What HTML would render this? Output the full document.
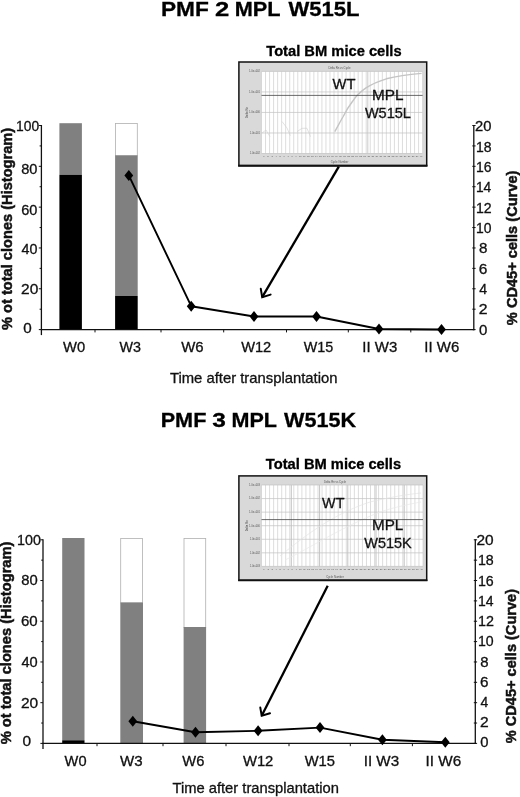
<!DOCTYPE html>
<html lang="en"><head><meta charset="utf-8"><title>PMF MPL W515 transplantation figure</title>
<style>html,body{margin:0;padding:0;background:#fff}body{width:520px;height:797px;overflow:hidden}svg{display:block}text{font-family:"Liberation Sans",Arial,Helvetica,sans-serif}</style>
</head><body>
<svg width="520" height="797" viewBox="0 0 520 797">
<rect width="520" height="797" fill="#fff"/>
<text x="160.93" y="16.4" font-size="21.1" textLength="47.89" lengthAdjust="spacingAndGlyphs" font-weight="bold" fill="#000" stroke="#000" stroke-width="0.3">PMF</text>
<text x="214.9" y="16.4" font-size="21.1" textLength="14.25" lengthAdjust="spacingAndGlyphs" font-weight="bold" fill="#000" stroke="#000" stroke-width="0.3">2</text>
<text x="234.69" y="16.4" font-size="21.1" textLength="45.89" lengthAdjust="spacingAndGlyphs" font-weight="bold" fill="#000" stroke="#000" stroke-width="0.3">MPL</text>
<text x="288.4" y="16.4" font-size="21.1" textLength="71.13" lengthAdjust="spacingAndGlyphs" font-weight="bold" fill="#000" stroke="#000" stroke-width="0.3">W515L</text>
<text x="160.69" y="427.2" font-size="21.1" textLength="45.68" lengthAdjust="spacingAndGlyphs" font-weight="bold" fill="#000" stroke="#000" stroke-width="0.3">PMF</text>
<text x="212.19" y="427.2" font-size="21.1" textLength="13.6" lengthAdjust="spacingAndGlyphs" font-weight="bold" fill="#000" stroke="#000" stroke-width="0.3">3</text>
<text x="231.5" y="427.2" font-size="21.1" textLength="45.47" lengthAdjust="spacingAndGlyphs" font-weight="bold" fill="#000" stroke="#000" stroke-width="0.3">MPL</text>
<text x="284.1" y="427.2" font-size="21.1" textLength="72.01" lengthAdjust="spacingAndGlyphs" font-weight="bold" fill="#000" stroke="#000" stroke-width="0.3">W515K</text>
<rect x="59.4" y="123.2" width="22.5" height="51.6" fill="#808080"/>
<rect x="59.4" y="174.8" width="22.5" height="154.2" fill="#000"/>
<rect x="115.5" y="123.4" width="21.8" height="32.4" fill="#fff" stroke="#b0b0b0" stroke-width="0.8"/>
<rect x="115.1" y="155.4" width="22.6" height="140.6" fill="#808080"/>
<rect x="115.1" y="296" width="22.6" height="33" fill="#000"/>
<g stroke="#111" stroke-width="1.3" fill="none">
<path d="M41.4 125V335.1"/>
<path d="M40.8 329.6H474.4"/>
<path d="M473.8 125V330.2"/>
</g>
<g stroke="#111" stroke-width="1" fill="none">
<path d="M38.8 125.5H41.4M39.6 145.91H41.4M38.8 166.32H41.4M39.6 186.73H41.4M38.8 207.14H41.4M39.6 227.55H41.4M38.8 247.96H41.4M39.6 268.37H41.4M38.8 288.78H41.4M39.6 309.19H41.4M38.8 329.6H41.4M472.3 125.5H475.6M472.3 145.91H475.6M472.3 166.32H475.6M472.3 186.73H475.6M472.3 207.14H475.6M472.3 227.55H475.6M472.3 247.96H475.6M472.3 268.37H475.6M472.3 288.78H475.6M472.3 309.19H475.6M472.3 329.6H475.6M95 329.6V332.4M161 329.6V332.4M223.7 329.6V332.4M286.5 329.6V332.4M348.3 329.6V332.4M410.8 329.6V332.4"/>
</g>
<text x="16.06" y="131.3" font-size="14.2" textLength="23.07" lengthAdjust="spacingAndGlyphs" fill="#111" stroke="#111" stroke-width="0.3">100</text>
<text x="21.22" y="174.1" font-size="14.2" textLength="16.23" lengthAdjust="spacingAndGlyphs" fill="#111" stroke="#111" stroke-width="0.3">80</text>
<text x="21.27" y="214.8" font-size="14.2" textLength="16.17" lengthAdjust="spacingAndGlyphs" fill="#111" stroke="#111" stroke-width="0.3">60</text>
<text x="21.51" y="253.9" font-size="14.2" textLength="15.92" lengthAdjust="spacingAndGlyphs" fill="#111" stroke="#111" stroke-width="0.3">40</text>
<text x="21.12" y="293.6" font-size="14.2" textLength="17.25" lengthAdjust="spacingAndGlyphs" fill="#111" stroke="#111" stroke-width="0.3">20</text>
<text x="23.29" y="333.2" font-size="14.2" textLength="8.46" lengthAdjust="spacingAndGlyphs" fill="#111" stroke="#111" stroke-width="0.3">0</text>
<text x="475.06" y="131.3" font-size="14.2" textLength="16.39" lengthAdjust="spacingAndGlyphs" fill="#111" stroke="#111" stroke-width="0.3">20</text>
<text x="475.95" y="151.62" font-size="14.2" textLength="15.54" lengthAdjust="spacingAndGlyphs" fill="#111" stroke="#111" stroke-width="0.3">18</text>
<text x="475.95" y="171.94" font-size="14.2" textLength="15.54" lengthAdjust="spacingAndGlyphs" fill="#111" stroke="#111" stroke-width="0.3">16</text>
<text x="475.97" y="192.26" font-size="14.2" textLength="15.31" lengthAdjust="spacingAndGlyphs" fill="#111" stroke="#111" stroke-width="0.3">14</text>
<text x="475.94" y="212.58" font-size="14.2" textLength="15.7" lengthAdjust="spacingAndGlyphs" fill="#111" stroke="#111" stroke-width="0.3">12</text>
<text x="475.96" y="232.9" font-size="14.2" textLength="15.46" lengthAdjust="spacingAndGlyphs" fill="#111" stroke="#111" stroke-width="0.3">10</text>
<text x="478.99" y="253.22" font-size="14.2" textLength="8.43" lengthAdjust="spacingAndGlyphs" fill="#111" stroke="#111" stroke-width="0.3">8</text>
<text x="478.83" y="273.54" font-size="14.2" textLength="8.61" lengthAdjust="spacingAndGlyphs" fill="#111" stroke="#111" stroke-width="0.3">6</text>
<text x="479.32" y="293.86" font-size="14.2" textLength="7.85" lengthAdjust="spacingAndGlyphs" fill="#111" stroke="#111" stroke-width="0.3">4</text>
<text x="478.81" y="314.18" font-size="14.2" textLength="8.8" lengthAdjust="spacingAndGlyphs" fill="#111" stroke="#111" stroke-width="0.3">2</text>
<text x="479" y="334.5" font-size="14.2" textLength="8.34" lengthAdjust="spacingAndGlyphs" fill="#111" stroke="#111" stroke-width="0.3">0</text>
<text x="63.03" y="352.4" font-size="14.2" textLength="22.09" lengthAdjust="spacingAndGlyphs" fill="#111" stroke="#111" stroke-width="0.3">W0</text>
<text x="119.53" y="352.4" font-size="14.2" textLength="21.44" lengthAdjust="spacingAndGlyphs" fill="#111" stroke="#111" stroke-width="0.3">W3</text>
<text x="181.18" y="352.4" font-size="14.2" textLength="22.42" lengthAdjust="spacingAndGlyphs" fill="#111" stroke="#111" stroke-width="0.3">W6</text>
<text x="241.18" y="352.4" font-size="14.2" textLength="30.07" lengthAdjust="spacingAndGlyphs" fill="#111" stroke="#111" stroke-width="0.3">W12</text>
<text x="303.73" y="352.4" font-size="14.2" textLength="29.46" lengthAdjust="spacingAndGlyphs" fill="#111" stroke="#111" stroke-width="0.3">W15</text>
<text x="362.35" y="352.4" font-size="14.2" textLength="34.9" lengthAdjust="spacingAndGlyphs" fill="#111" stroke="#111" stroke-width="0.3">II W3</text>
<text x="424.35" y="352.4" font-size="14.2" textLength="34.9" lengthAdjust="spacingAndGlyphs" fill="#111" stroke="#111" stroke-width="0.3">II W6</text>
<text x="169.9" y="383.3" font-size="14.2" textLength="167.59" lengthAdjust="spacingAndGlyphs" fill="#111" stroke="#111" stroke-width="0.3">Time after transplantation</text>
<text x="0" y="0" font-size="15.4" textLength="202.19" lengthAdjust="spacingAndGlyphs" font-weight="bold" fill="#111" stroke="#111" stroke-width="0.5" transform="translate(11.6 329.97) rotate(-90)">% ot total clones (Histogram)</text>
<text x="0" y="0" font-size="15.4" textLength="154.57" lengthAdjust="spacingAndGlyphs" font-weight="bold" fill="#111" stroke="#111" stroke-width="0.5" transform="translate(516.5 325.16) rotate(-90)">% CD45+ cells (Curve)</text>
<path d="M128.8 175.4L191.2 306.2L254 316.5L316.5 316.5L379 329L441.5 329.5" stroke="#000" stroke-width="1.9" fill="none" stroke-linejoin="round"/>
<path d="M124.4 175.4L128.8 169.9L133.2 175.4L128.8 180.9Z" fill="#000"/>
<path d="M186.8 306.2L191.2 300.7L195.6 306.2L191.2 311.7Z" fill="#000"/>
<path d="M249.6 316.5L254 311L258.4 316.5L254 322Z" fill="#000"/>
<path d="M312.1 316.5L316.5 311L320.9 316.5L316.5 322Z" fill="#000"/>
<path d="M374.6 329L379 323.5L383.4 329L379 334.5Z" fill="#000"/>
<path d="M437.1 329.5L441.5 324L445.9 329.5L441.5 335Z" fill="#000"/>
<rect x="238.9" y="62" width="187.8" height="103.6" fill="#d9d9d9"/>
<rect x="261.5" y="71.4" width="161.1" height="82.1" fill="#fff"/>
<path d="M261.5 71.4V153.5M265.53 71.4V153.5M269.56 71.4V153.5M273.58 71.4V153.5M277.61 71.4V153.5M281.64 71.4V153.5M285.67 71.4V153.5M289.69 71.4V153.5M293.72 71.4V153.5M297.75 71.4V153.5M301.77 71.4V153.5M305.8 71.4V153.5M309.83 71.4V153.5M313.86 71.4V153.5M317.88 71.4V153.5M321.91 71.4V153.5M325.94 71.4V153.5M329.97 71.4V153.5M334 71.4V153.5M338.02 71.4V153.5M342.05 71.4V153.5M346.08 71.4V153.5M350.11 71.4V153.5M354.13 71.4V153.5M358.16 71.4V153.5M362.19 71.4V153.5M366.22 71.4V153.5M370.24 71.4V153.5M374.27 71.4V153.5M378.3 71.4V153.5M382.33 71.4V153.5M386.35 71.4V153.5M390.38 71.4V153.5M394.41 71.4V153.5M398.44 71.4V153.5M402.46 71.4V153.5M406.49 71.4V153.5M410.52 71.4V153.5M414.55 71.4V153.5M418.57 71.4V153.5M422.6 71.4V153.5" stroke="#cfcfcf" stroke-width="0.7" fill="none"/>
<path d="M367.8 71.4V153.5" stroke="#bebebe" stroke-width="0.8" fill="none"/>
<path d="M261.5 71.4H422.6M261.5 91.93H422.6M261.5 112.45H422.6M261.5 132.97H422.6M261.5 153.5H422.6" stroke="#c2c2c2" stroke-width="0.7" fill="none"/>
<text x="260" y="72.3" font-size="2.6" text-anchor="end" fill="#555">1.0e+002</text>
<text x="260" y="92.83" font-size="2.6" text-anchor="end" fill="#555">1.0e+001</text>
<text x="260" y="113.35" font-size="2.6" text-anchor="end" fill="#555">1.0e+000</text>
<text x="260" y="133.88" font-size="2.6" text-anchor="end" fill="#555">1.0e-001</text>
<text x="260" y="154.4" font-size="2.6" text-anchor="end" fill="#555">1.0e-002</text>
<text x="264.01" y="157.1" font-size="2.4" text-anchor="middle" fill="#555">1</text>
<text x="268.04" y="157.1" font-size="2.4" text-anchor="middle" fill="#555">2</text>
<text x="272.07" y="157.1" font-size="2.4" text-anchor="middle" fill="#555">3</text>
<text x="276.1" y="157.1" font-size="2.4" text-anchor="middle" fill="#555">4</text>
<text x="280.12" y="157.1" font-size="2.4" text-anchor="middle" fill="#555">5</text>
<text x="284.15" y="157.1" font-size="2.4" text-anchor="middle" fill="#555">6</text>
<text x="288.18" y="157.1" font-size="2.4" text-anchor="middle" fill="#555">7</text>
<text x="292.21" y="157.1" font-size="2.4" text-anchor="middle" fill="#555">8</text>
<text x="296.23" y="157.1" font-size="2.4" text-anchor="middle" fill="#555">9</text>
<text x="300.26" y="157.1" font-size="2.4" text-anchor="middle" fill="#555">10</text>
<text x="304.29" y="157.1" font-size="2.4" text-anchor="middle" fill="#555">11</text>
<text x="308.32" y="157.1" font-size="2.4" text-anchor="middle" fill="#555">12</text>
<text x="312.34" y="157.1" font-size="2.4" text-anchor="middle" fill="#555">13</text>
<text x="316.37" y="157.1" font-size="2.4" text-anchor="middle" fill="#555">14</text>
<text x="320.4" y="157.1" font-size="2.4" text-anchor="middle" fill="#555">15</text>
<text x="324.43" y="157.1" font-size="2.4" text-anchor="middle" fill="#555">16</text>
<text x="328.45" y="157.1" font-size="2.4" text-anchor="middle" fill="#555">17</text>
<text x="332.48" y="157.1" font-size="2.4" text-anchor="middle" fill="#555">18</text>
<text x="336.51" y="157.1" font-size="2.4" text-anchor="middle" fill="#555">19</text>
<text x="340.54" y="157.1" font-size="2.4" text-anchor="middle" fill="#555">20</text>
<text x="344.56" y="157.1" font-size="2.4" text-anchor="middle" fill="#555">21</text>
<text x="348.59" y="157.1" font-size="2.4" text-anchor="middle" fill="#555">22</text>
<text x="352.62" y="157.1" font-size="2.4" text-anchor="middle" fill="#555">23</text>
<text x="356.65" y="157.1" font-size="2.4" text-anchor="middle" fill="#555">24</text>
<text x="360.67" y="157.1" font-size="2.4" text-anchor="middle" fill="#555">25</text>
<text x="364.7" y="157.1" font-size="2.4" text-anchor="middle" fill="#555">26</text>
<text x="368.73" y="157.1" font-size="2.4" text-anchor="middle" fill="#555">27</text>
<text x="372.76" y="157.1" font-size="2.4" text-anchor="middle" fill="#555">28</text>
<text x="376.78" y="157.1" font-size="2.4" text-anchor="middle" fill="#555">29</text>
<text x="380.81" y="157.1" font-size="2.4" text-anchor="middle" fill="#555">30</text>
<text x="384.84" y="157.1" font-size="2.4" text-anchor="middle" fill="#555">31</text>
<text x="388.87" y="157.1" font-size="2.4" text-anchor="middle" fill="#555">32</text>
<text x="392.89" y="157.1" font-size="2.4" text-anchor="middle" fill="#555">33</text>
<text x="396.92" y="157.1" font-size="2.4" text-anchor="middle" fill="#555">34</text>
<text x="400.95" y="157.1" font-size="2.4" text-anchor="middle" fill="#555">35</text>
<text x="404.98" y="157.1" font-size="2.4" text-anchor="middle" fill="#555">36</text>
<text x="409" y="157.1" font-size="2.4" text-anchor="middle" fill="#555">37</text>
<text x="413.03" y="157.1" font-size="2.4" text-anchor="middle" fill="#555">38</text>
<text x="417.06" y="157.1" font-size="2.4" text-anchor="middle" fill="#555">39</text>
<text x="421.09" y="157.1" font-size="2.4" text-anchor="middle" fill="#555">40</text>
<text x="339.5" y="68.6" font-size="2.8" text-anchor="middle" fill="#555">Delta Rn vs Cycle</text>
<text x="339.5" y="163.4" font-size="2.8" text-anchor="middle" fill="#555">Cycle Number</text>
<text x="247.9" y="112.45" font-size="2.8" text-anchor="middle" transform="rotate(-90 247.9 112.45)" fill="#444">Delta Rn</text>
<path d="M334.8 131.6C338 126 341 120 343.2 116.5C346 111 349 106 352.6 101.3C356 96 360 92 366 87.9C372 84 379 81 386.3 78.8C398 76 410 74.5 421.6 73.4" stroke="#c4c4c4" stroke-width="1.4" fill="none"/>
<path d="M261.7 133.3L266 130L270 136.7M282 121.5L287 128L290.3 135.7M297 131.6L302 128.3L307 128.3L310.5 136.7" stroke="#cfcfcf" stroke-width="0.6" fill="none"/>
<path d="M261.5 95.4H422.6" stroke="#444" stroke-width="0.8" fill="none"/>
<rect x="238.9" y="62" width="187.8" height="103.6" fill="none" stroke="#111" stroke-width="1.5"/>
<path d="M238.15 165.8H427.45" stroke="#111" stroke-width="1.9" fill="none"/>
<text x="332.53" y="88.8" font-size="14.3" textLength="22.96" lengthAdjust="spacingAndGlyphs" fill="#111" stroke="#111" stroke-width="0.3">WT</text>
<text x="371.97" y="100.1" font-size="14.3" textLength="31.5" lengthAdjust="spacingAndGlyphs" fill="#111" stroke="#111" stroke-width="0.3">MPL</text>
<text x="364.93" y="117.7" font-size="14.3" textLength="45.96" lengthAdjust="spacingAndGlyphs" fill="#111" stroke="#111" stroke-width="0.3">W515L</text>
<text x="266.25" y="55.9" font-size="14.4" textLength="135.36" lengthAdjust="spacingAndGlyphs" font-weight="bold" fill="#000" stroke="#000" stroke-width="0.3">Total BM mice cells</text>
<path d="M338.8 166.6L262.2 297.2" stroke="#000" stroke-width="2.3" fill="none"/>
<path d="M260.8 288.8L262.2 297.2L270.6 294.6" stroke="#000" stroke-width="2" fill="none" stroke-linejoin="miter" stroke-linecap="round"/>
<rect x="62.2" y="538" width="22.3" height="202.3" fill="#808080"/>
<rect x="62.2" y="740.3" width="22.3" height="2.7" fill="#000"/>
<rect x="120.7" y="538.4" width="21.9" height="64.5" fill="#fff" stroke="#b0b0b0" stroke-width="0.8"/>
<rect x="120.3" y="602.5" width="22.7" height="140.5" fill="#808080"/>
<rect x="184" y="538.4" width="21.7" height="89" fill="#fff" stroke="#b0b0b0" stroke-width="0.8"/>
<rect x="183.6" y="627" width="22.5" height="116" fill="#808080"/>
<g stroke="#111" stroke-width="1.3" fill="none">
<path d="M43 539.3V748.9"/>
<path d="M42.4 743.4H475.9"/>
<path d="M475.3 539.3V744"/>
</g>
<g stroke="#111" stroke-width="1" fill="none">
<path d="M40.4 539.8H43M41.2 560.16H43M40.4 580.52H43M41.2 600.88H43M40.4 621.24H43M41.2 641.6H43M40.4 661.96H43M41.2 682.32H43M40.4 702.68H43M41.2 723.04H43M40.4 743.4H43M473.8 539.8H477.1M473.8 560.16H477.1M473.8 580.52H477.1M473.8 600.88H477.1M473.8 621.24H477.1M473.8 641.6H477.1M473.8 661.96H477.1M473.8 682.32H477.1M473.8 702.68H477.1M473.8 723.04H477.1M473.8 743.4H477.1M97 743.4V746.2M163 743.4V746.2M226 743.4V746.2M289 743.4V746.2M350.3 743.4V746.2M412.4 743.4V746.2"/>
</g>
<text x="17.13" y="545" font-size="14.2" textLength="23.82" lengthAdjust="spacingAndGlyphs" fill="#111" stroke="#111" stroke-width="0.3">100</text>
<text x="21.31" y="584.8" font-size="14.2" textLength="16.44" lengthAdjust="spacingAndGlyphs" fill="#111" stroke="#111" stroke-width="0.3">80</text>
<text x="20.95" y="626.1" font-size="14.2" textLength="16.71" lengthAdjust="spacingAndGlyphs" fill="#111" stroke="#111" stroke-width="0.3">60</text>
<text x="21.41" y="667.2" font-size="14.2" textLength="16.24" lengthAdjust="spacingAndGlyphs" fill="#111" stroke="#111" stroke-width="0.3">40</text>
<text x="20.92" y="707.8" font-size="14.2" textLength="17.25" lengthAdjust="spacingAndGlyphs" fill="#111" stroke="#111" stroke-width="0.3">20</text>
<text x="22.48" y="746.1" font-size="14.2" textLength="8.57" lengthAdjust="spacingAndGlyphs" fill="#111" stroke="#111" stroke-width="0.3">0</text>
<text x="476.53" y="545.2" font-size="14.2" textLength="17.15" lengthAdjust="spacingAndGlyphs" fill="#111" stroke="#111" stroke-width="0.3">20</text>
<text x="477.94" y="565.42" font-size="14.2" textLength="15.76" lengthAdjust="spacingAndGlyphs" fill="#111" stroke="#111" stroke-width="0.3">18</text>
<text x="477.94" y="585.64" font-size="14.2" textLength="15.76" lengthAdjust="spacingAndGlyphs" fill="#111" stroke="#111" stroke-width="0.3">16</text>
<text x="477.95" y="605.86" font-size="14.2" textLength="15.53" lengthAdjust="spacingAndGlyphs" fill="#111" stroke="#111" stroke-width="0.3">14</text>
<text x="477.93" y="626.08" font-size="14.2" textLength="15.92" lengthAdjust="spacingAndGlyphs" fill="#111" stroke="#111" stroke-width="0.3">12</text>
<text x="477.94" y="646.3" font-size="14.2" textLength="15.68" lengthAdjust="spacingAndGlyphs" fill="#111" stroke="#111" stroke-width="0.3">10</text>
<text x="480.2" y="666.52" font-size="14.2" textLength="8.31" lengthAdjust="spacingAndGlyphs" fill="#111" stroke="#111" stroke-width="0.3">8</text>
<text x="480.04" y="686.74" font-size="14.2" textLength="8.49" lengthAdjust="spacingAndGlyphs" fill="#111" stroke="#111" stroke-width="0.3">6</text>
<text x="480.52" y="706.96" font-size="14.2" textLength="7.74" lengthAdjust="spacingAndGlyphs" fill="#111" stroke="#111" stroke-width="0.3">4</text>
<text x="480.02" y="727.18" font-size="14.2" textLength="8.68" lengthAdjust="spacingAndGlyphs" fill="#111" stroke="#111" stroke-width="0.3">2</text>
<text x="480.21" y="747.4" font-size="14.2" textLength="8.23" lengthAdjust="spacingAndGlyphs" fill="#111" stroke="#111" stroke-width="0.3">0</text>
<text x="64.63" y="766.4" font-size="14.2" textLength="21.88" lengthAdjust="spacingAndGlyphs" fill="#111" stroke="#111" stroke-width="0.3">W0</text>
<text x="120.02" y="766.4" font-size="14.2" textLength="22.58" lengthAdjust="spacingAndGlyphs" fill="#111" stroke="#111" stroke-width="0.3">W3</text>
<text x="182.33" y="766.4" font-size="14.2" textLength="22.06" lengthAdjust="spacingAndGlyphs" fill="#111" stroke="#111" stroke-width="0.3">W6</text>
<text x="242.93" y="766.4" font-size="14.2" textLength="30.43" lengthAdjust="spacingAndGlyphs" fill="#111" stroke="#111" stroke-width="0.3">W12</text>
<text x="304.73" y="766.4" font-size="14.2" textLength="30.28" lengthAdjust="spacingAndGlyphs" fill="#111" stroke="#111" stroke-width="0.3">W15</text>
<text x="363.73" y="766.4" font-size="14.2" textLength="35.43" lengthAdjust="spacingAndGlyphs" fill="#111" stroke="#111" stroke-width="0.3">II W3</text>
<text x="425.63" y="766.4" font-size="14.2" textLength="35.64" lengthAdjust="spacingAndGlyphs" fill="#111" stroke="#111" stroke-width="0.3">II W6</text>
<text x="172.51" y="792.5" font-size="14.2" textLength="166.38" lengthAdjust="spacingAndGlyphs" fill="#111" stroke="#111" stroke-width="0.3">Time after transplantation</text>
<text x="0" y="0" font-size="15.4" textLength="202.8" lengthAdjust="spacingAndGlyphs" font-weight="bold" fill="#111" stroke="#111" stroke-width="0.5" transform="translate(10.7 744.37) rotate(-90)">% ot total clones (Histogram)</text>
<text x="0" y="0" font-size="15.4" textLength="154.16" lengthAdjust="spacingAndGlyphs" font-weight="bold" fill="#111" stroke="#111" stroke-width="0.5" transform="translate(516.3 743.16) rotate(-90)">% CD45+ cells (Curve)</text>
<path d="M132.8 721.2L195.5 732.2L258.1 730.8L320 727.6L382.4 739.7L445.3 742.2" stroke="#000" stroke-width="1.9" fill="none" stroke-linejoin="round"/>
<path d="M128.4 721.2L132.8 715.7L137.2 721.2L132.8 726.7Z" fill="#000"/>
<path d="M191.1 732.2L195.5 726.7L199.9 732.2L195.5 737.7Z" fill="#000"/>
<path d="M253.7 730.8L258.1 725.3L262.5 730.8L258.1 736.3Z" fill="#000"/>
<path d="M315.6 727.6L320 722.1L324.4 727.6L320 733.1Z" fill="#000"/>
<path d="M378 739.7L382.4 734.2L386.8 739.7L382.4 745.2Z" fill="#000"/>
<path d="M440.9 742.2L445.3 736.7L449.7 742.2L445.3 747.7Z" fill="#000"/>
<rect x="238.9" y="475.9" width="187.8" height="104.3" fill="#d9d9d9"/>
<rect x="261.5" y="485" width="161.5" height="81.4" fill="#fff"/>
<path d="M261.5 485V566.4M265.54 485V566.4M269.57 485V566.4M273.61 485V566.4M277.65 485V566.4M281.69 485V566.4M285.73 485V566.4M289.76 485V566.4M293.8 485V566.4M297.84 485V566.4M301.88 485V566.4M305.91 485V566.4M309.95 485V566.4M313.99 485V566.4M318.02 485V566.4M322.06 485V566.4M326.1 485V566.4M330.14 485V566.4M334.18 485V566.4M338.21 485V566.4M342.25 485V566.4M346.29 485V566.4M350.32 485V566.4M354.36 485V566.4M358.4 485V566.4M362.44 485V566.4M366.48 485V566.4M370.51 485V566.4M374.55 485V566.4M378.59 485V566.4M382.62 485V566.4M386.66 485V566.4M390.7 485V566.4M394.74 485V566.4M398.77 485V566.4M402.81 485V566.4M406.85 485V566.4M410.89 485V566.4M414.92 485V566.4M418.96 485V566.4M423 485V566.4" stroke="#cfcfcf" stroke-width="0.7" fill="none"/>
<path d="M291.3 485V566.4M319.6 485V566.4M347.8 485V566.4M376 485V566.4M404.2 485V566.4" stroke="#b4b4b4" stroke-width="0.8" fill="none"/>
<path d="M261.5 485H423M261.5 498.57H423M261.5 512.13H423M261.5 525.7H423M261.5 539.27H423M261.5 552.83H423M261.5 566.4H423" stroke="#c2c2c2" stroke-width="0.7" fill="none"/>
<text x="260" y="485.9" font-size="2.6" text-anchor="end" fill="#555">1.0e+003</text>
<text x="260" y="499.47" font-size="2.6" text-anchor="end" fill="#555">1.0e+002</text>
<text x="260" y="513.03" font-size="2.6" text-anchor="end" fill="#555">1.0e+001</text>
<text x="260" y="526.6" font-size="2.6" text-anchor="end" fill="#555">1.0e+000</text>
<text x="260" y="540.17" font-size="2.6" text-anchor="end" fill="#555">1.0e-001</text>
<text x="260" y="553.73" font-size="2.6" text-anchor="end" fill="#555">1.0e-002</text>
<text x="260" y="567.3" font-size="2.6" text-anchor="end" fill="#555">1.0e-003</text>
<text x="264.02" y="570" font-size="2.4" text-anchor="middle" fill="#555">1</text>
<text x="268.06" y="570" font-size="2.4" text-anchor="middle" fill="#555">2</text>
<text x="272.09" y="570" font-size="2.4" text-anchor="middle" fill="#555">3</text>
<text x="276.13" y="570" font-size="2.4" text-anchor="middle" fill="#555">4</text>
<text x="280.17" y="570" font-size="2.4" text-anchor="middle" fill="#555">5</text>
<text x="284.21" y="570" font-size="2.4" text-anchor="middle" fill="#555">6</text>
<text x="288.24" y="570" font-size="2.4" text-anchor="middle" fill="#555">7</text>
<text x="292.28" y="570" font-size="2.4" text-anchor="middle" fill="#555">8</text>
<text x="296.32" y="570" font-size="2.4" text-anchor="middle" fill="#555">9</text>
<text x="300.36" y="570" font-size="2.4" text-anchor="middle" fill="#555">10</text>
<text x="304.39" y="570" font-size="2.4" text-anchor="middle" fill="#555">11</text>
<text x="308.43" y="570" font-size="2.4" text-anchor="middle" fill="#555">12</text>
<text x="312.47" y="570" font-size="2.4" text-anchor="middle" fill="#555">13</text>
<text x="316.51" y="570" font-size="2.4" text-anchor="middle" fill="#555">14</text>
<text x="320.54" y="570" font-size="2.4" text-anchor="middle" fill="#555">15</text>
<text x="324.58" y="570" font-size="2.4" text-anchor="middle" fill="#555">16</text>
<text x="328.62" y="570" font-size="2.4" text-anchor="middle" fill="#555">17</text>
<text x="332.66" y="570" font-size="2.4" text-anchor="middle" fill="#555">18</text>
<text x="336.69" y="570" font-size="2.4" text-anchor="middle" fill="#555">19</text>
<text x="340.73" y="570" font-size="2.4" text-anchor="middle" fill="#555">20</text>
<text x="344.77" y="570" font-size="2.4" text-anchor="middle" fill="#555">21</text>
<text x="348.81" y="570" font-size="2.4" text-anchor="middle" fill="#555">22</text>
<text x="352.84" y="570" font-size="2.4" text-anchor="middle" fill="#555">23</text>
<text x="356.88" y="570" font-size="2.4" text-anchor="middle" fill="#555">24</text>
<text x="360.92" y="570" font-size="2.4" text-anchor="middle" fill="#555">25</text>
<text x="364.96" y="570" font-size="2.4" text-anchor="middle" fill="#555">26</text>
<text x="368.99" y="570" font-size="2.4" text-anchor="middle" fill="#555">27</text>
<text x="373.03" y="570" font-size="2.4" text-anchor="middle" fill="#555">28</text>
<text x="377.07" y="570" font-size="2.4" text-anchor="middle" fill="#555">29</text>
<text x="381.11" y="570" font-size="2.4" text-anchor="middle" fill="#555">30</text>
<text x="385.14" y="570" font-size="2.4" text-anchor="middle" fill="#555">31</text>
<text x="389.18" y="570" font-size="2.4" text-anchor="middle" fill="#555">32</text>
<text x="393.22" y="570" font-size="2.4" text-anchor="middle" fill="#555">33</text>
<text x="397.26" y="570" font-size="2.4" text-anchor="middle" fill="#555">34</text>
<text x="401.29" y="570" font-size="2.4" text-anchor="middle" fill="#555">35</text>
<text x="405.33" y="570" font-size="2.4" text-anchor="middle" fill="#555">36</text>
<text x="409.37" y="570" font-size="2.4" text-anchor="middle" fill="#555">37</text>
<text x="413.41" y="570" font-size="2.4" text-anchor="middle" fill="#555">38</text>
<text x="417.44" y="570" font-size="2.4" text-anchor="middle" fill="#555">39</text>
<text x="421.48" y="570" font-size="2.4" text-anchor="middle" fill="#555">40</text>
<text x="335" y="482.5" font-size="2.8" text-anchor="middle" fill="#555">Delta Rn vs Cycle</text>
<text x="335" y="578" font-size="2.8" text-anchor="middle" fill="#555">Cycle Number</text>
<text x="247.9" y="525.7" font-size="2.8" text-anchor="middle" transform="rotate(-90 247.9 525.7)" fill="#444">Delta Rn</text>
<path d="M280 556C300 540 330 515 370 502C390 497 410 494 421 493" stroke="#e4e4e4" stroke-width="0.7" fill="none"/>
<path d="M285 560C310 548 340 528 380 512C395 507 410 504 421 502" stroke="#e8e8e8" stroke-width="0.7" fill="none"/>
<path d="M261.5 519.6H423" stroke="#444" stroke-width="0.8" fill="none"/>
<rect x="238.9" y="475.9" width="187.8" height="104.3" fill="none" stroke="#111" stroke-width="1.5"/>
<path d="M238.15 580.4H427.45" stroke="#111" stroke-width="1.9" fill="none"/>
<text x="322.13" y="508" font-size="14.3" textLength="22.35" lengthAdjust="spacingAndGlyphs" fill="#111" stroke="#111" stroke-width="0.3">WT</text>
<text x="371.98" y="529.9" font-size="14.3" textLength="31.29" lengthAdjust="spacingAndGlyphs" fill="#111" stroke="#111" stroke-width="0.3">MPL</text>
<text x="364.23" y="547.8" font-size="14.3" textLength="47.48" lengthAdjust="spacingAndGlyphs" fill="#111" stroke="#111" stroke-width="0.3">W515K</text>
<text x="265.85" y="469" font-size="14.4" textLength="135.26" lengthAdjust="spacingAndGlyphs" font-weight="bold" fill="#000" stroke="#000" stroke-width="0.3">Total BM mice cells</text>
<path d="M327.7 585.7L261.7 715.8" stroke="#000" stroke-width="2.3" fill="none"/>
<path d="M260.3 707.6L261.7 715.8L270 713.2" stroke="#000" stroke-width="2" fill="none" stroke-linejoin="miter" stroke-linecap="round"/>
</svg>
</body></html>
